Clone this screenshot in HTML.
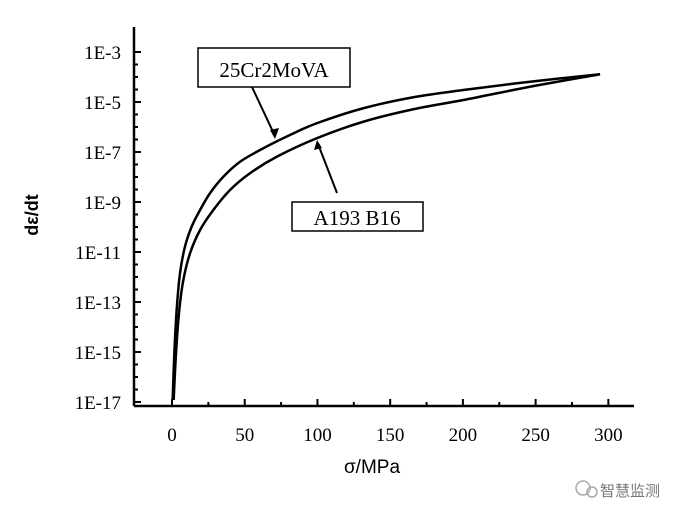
<!DOCTYPE html>
<html><head><meta charset="utf-8"><style>
body{margin:0;background:#fff}
svg{display:block}
text{font-family:"Liberation Serif","Noto Serif CJK SC",serif;fill:#000}
text.sans{font-family:"Liberation Sans","Noto Sans CJK SC",sans-serif}
</style></head><body>
<svg id="chart" width="677" height="513">
<g id="axes"></g>
<g id="series"></g>
<text class="sans" x="38" y="215" font-size="18" font-weight="bold" text-anchor="middle" transform="rotate(-90 38 215)">dε/dt</text>
<text class="sans" x="372" y="473" font-size="19" text-anchor="middle">σ/MPa</text>
<g>
<rect x="198" y="48" width="152" height="39" fill="#fff" stroke="#000" stroke-width="1.5"/>
<text x="274" y="77" font-size="21" text-anchor="middle">25Cr2MoVA</text>
<line x1="252" y1="87" x2="275" y2="136" stroke="#000" stroke-width="2"/>
<polygon points="275,139 270,130 279,128" fill="#000"/>
</g>
<g>
<rect x="292" y="202" width="131" height="29" fill="#fff" stroke="#000" stroke-width="1.5"/>
<text x="357" y="225" font-size="21" text-anchor="middle">A193 B16</text>
<line x1="337" y1="193" x2="318" y2="144" stroke="#000" stroke-width="2"/>
<polygon points="317,140 314,150 322,148" fill="#000"/>
</g>
<g>
<circle cx="583" cy="488" r="7" fill="none" stroke="#aaa" stroke-width="1.5"/>
<circle cx="592" cy="492" r="5" fill="none" stroke="#aaa" stroke-width="1.5"/>
<text class="sans" x="600" y="496" font-size="15" style="fill:#777">智慧监测</text>
</g>
</svg>
<script>
const xTicks=[0,50,100,150,200,250,300];
const yTicks=[-3,-5,-7,-9,-11,-13,-15,-17];
const sigmaA=[0.46,1.6,3.2,5.5,8.9,13.5,19.3,26.1,35.3,46.8,62.8,81.1,99.5,131.5,165.9,200.3,246.1,294.3];
const logA=[-16.92,-15.05,-13.32,-11.85,-10.79,-9.99,-9.32,-8.65,-7.99,-7.39,-6.85,-6.32,-5.85,-5.25,-4.81,-4.52,-4.19,-3.89];
const sigmaB=[1.15,2.75,5.0,7.8,12.4,19.3,28.4,39.9,53.6,72,99.5,131.5,165.9,200.3,246.1,294.3];
const logB=[-16.92,-15.05,-13.32,-12.12,-11.05,-10.12,-9.32,-8.52,-7.85,-7.19,-6.45,-5.79,-5.29,-4.92,-4.39,-3.89];
const NS="http://www.w3.org/2000/svg";
const xs=v=>172+v*1.4545;
const ys=v=>52+(-3-v)*25;
const ax=document.getElementById('axes');
function mk(tag,attrs,parent){const e=document.createElementNS(NS,tag);for(const k in attrs)e.setAttribute(k,attrs[k]);parent.appendChild(e);return e;}
const xl=mk('line',{x1:134,y1:406,x2:634,y2:406,stroke:'#000','stroke-width':2.5},ax);


const yl=mk('line',{x1:134,y1:27,x2:134,y2:406,stroke:'#000','stroke-width':2.5},ax);


xTicks.forEach((t,i)=>{
 mk('line',{x1:xs(t),y1:406,x2:xs(t),y2:399,stroke:'#000','stroke-width':2},ax);
 if(i<xTicks.length-1) mk('line',{x1:xs(t+25),y1:406,x2:xs(t+25),y2:402,stroke:'#000','stroke-width':2},ax);
 const tx=mk('text',{x:xs(t),y:441,'font-size':19,'text-anchor':'middle'},ax);
 tx.textContent=t;
 
 
});
yTicks.forEach((t,i)=>{
 mk('line',{x1:134,y1:ys(t),x2:141,y2:ys(t),stroke:'#000','stroke-width':2},ax);
 if(i<yTicks.length-1){
  [12.5,25,37.5].forEach(o=>mk('line',{x1:134,y1:ys(t)+o,x2:138,y2:ys(t)+o,stroke:'#000','stroke-width':2},ax));
 }
 const tx=mk('text',{x:121,y:ys(t)+7,'font-size':19,'text-anchor':'end'},ax);
 tx.textContent='1E'+t;
 
 
});
function path(sx,ly){
 const p=sx.map((s,i)=>[xs(s),ys(ly[i])]);
 let d='M'+p[0][0]+','+p[0][1];
 for(let i=0;i<p.length-1;i++){
  const p0=p[i-1]||p[i],p1=p[i],p2=p[i+1],p3=p[i+2]||p2;
  d+=' C'+(p1[0]+(p2[0]-p0[0])/6)+','+(p1[1]+(p2[1]-p0[1])/6)+' '+(p2[0]-(p3[0]-p1[0])/6)+','+(p2[1]-(p3[1]-p1[1])/6)+' '+p2[0]+','+p2[1];
 }
 return d;
}
const sg=document.getElementById('series');
const a=mk('path',{d:path(sigmaA,logA),fill:'none',stroke:'#000','stroke-width':2.5,'stroke-linejoin':'round'},sg);


const b=mk('path',{d:path(sigmaB,logB),fill:'none',stroke:'#000','stroke-width':2.5,'stroke-linejoin':'round'},sg);


</script>
</body></html>
